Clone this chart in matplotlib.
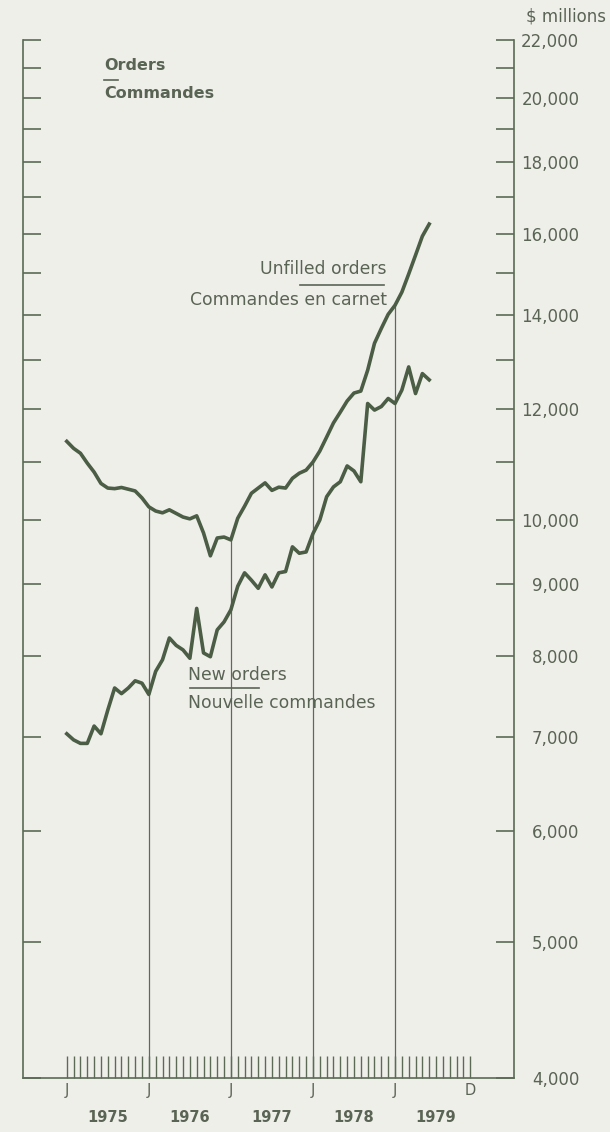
import numpy as np
import matplotlib
matplotlib.use("Agg")
import matplotlib.pyplot as plt
from matplotlib.ticker import FixedLocator, NullLocator, FixedFormatter

# ---------------- data (monthly, Jan 1975 .. Jun 1979) ----------------
unfilled_orders = [11380, 11250, 11160, 10980, 10820, 10620, 10540, 10530, 10550, 10520,
                   10490, 10370, 10220, 10150, 10120, 10170, 10110, 10050, 10020, 10070,
                   9790, 9430, 9710, 9725, 9680, 10030, 10230, 10450, 10540, 10630,
                   10500, 10555, 10540, 10710, 10800, 10855, 11000, 11200, 11460, 11730,
                   11940, 12160, 12320, 12360, 12790, 13370, 13700, 14020, 14230, 14540,
                   14980, 15450, 15940, 16260]
new_orders = [7040, 6970, 6930, 6930, 7130, 7040, 7320, 7590, 7520, 7590,
              7680, 7650, 7510, 7800, 7950, 8240, 8140, 8080, 7970, 8650,
              8040, 7990, 8350, 8460, 8630, 8970, 9170, 9060, 8940, 9140,
              8960, 9170, 9190, 9570, 9470, 9490, 9780, 10000, 10390, 10560,
              10650, 10930, 10840, 10650, 12110, 11980, 12050, 12210, 12110, 12380,
              12860, 12310, 12720, 12590]
years = ["1975", "1976", "1977", "1978", "1979"]
month_labels = ["J", "J", "J", "J", "J", "D"]
month_label_pos = [0, 12, 24, 36, 48, 59]
year_rule_months = [12, 24, 36, 48]
ytick_values = [4000, 5000, 6000, 7000, 8000, 9000, 10000, 11000, 12000, 13000, 14000,
                15000, 16000, 17000, 18000, 19000, 20000, 21000, 22000]
ylabel_values = [4000, 5000, 6000, 7000, 8000, 9000, 10000, 12000, 14000, 16000,
                 18000, 20000, 22000]

# ---------------- style ----------------
BG = "#efefea"
LINE = "#4b5d45"
AXC = "#5c6a56"
TXT = "#5a6454"
FONT = "DejaVu Sans"
plt.rcParams["font.family"] = [FONT]

W, H = 610, 1132
fig = plt.figure(figsize=(W / 100, H / 100), dpi=100, facecolor=BG)
left_px, right_px, top_px, bottom_px = 23, 514, 40, 1078
ax = fig.add_axes([left_px / W, 1 - bottom_px / H,
                   (right_px - left_px) / W, (bottom_px - top_px) / H])
ax.set_facecolor(BG)

x = np.arange(len(unfilled_orders))
ax.set_yscale("log")
ax.set_ylim(4000, 22000)
ax.set_xlim(-6.4, 65.4)

# vertical year rules from the unfilled-orders curve down to the base
for m in year_rule_months:
    ax.vlines(m, 4000, unfilled_orders[m], color=AXC, lw=0.9, zorder=1)

ax.plot(x, unfilled_orders, color=LINE, lw=2.6, solid_joinstyle="round", zorder=3)
ax.plot(np.arange(len(new_orders)), new_orders, color=LINE, lw=2.6,
        solid_joinstyle="round", zorder=3)

# spines
for s in ["left", "right", "bottom"]:
    ax.spines[s].set_color(AXC)
    ax.spines[s].set_linewidth(1.2)
ax.spines["top"].set_visible(False)

# y ticks
ax.yaxis.set_major_locator(FixedLocator(ytick_values))
ax.yaxis.set_minor_locator(NullLocator())
labels = [f"{v:,}" if v in ylabel_values else "" for v in ytick_values]
ax.yaxis.set_major_formatter(FixedFormatter(labels))
ax.tick_params(axis="y", which="major", direction="in", length=13, width=1.2,
               color=AXC, left=True, right=True, labelleft=False, labelright=True,
               labelsize=12, labelcolor=TXT, pad=47)
for lab in ax.get_yticklabels():
    lab.set_horizontalalignment("right")

# x ticks: monthly
ax.set_xticks(np.arange(0, 60))
ax.set_xticklabels([])
ax.tick_params(axis="x", which="major", direction="in", length=16, width=1.0,
               color=AXC, top=False, bottom=True)

xt = ax.get_xaxis_transform()
for pos, lab in zip(month_label_pos, month_labels):
    ax.text(pos, -0.0125, lab, transform=xt, ha="center", va="center",
            fontsize=10.5, color=TXT)
for i, yr in enumerate(years):
    ax.text(6 + 12 * i, -0.0385, yr, transform=xt, ha="center", va="center",
            fontsize=10.5, fontweight="bold", color=TXT)

# annotations (figure-pixel placement)
def ftext(px, py, s, **kw):
    fig.text(px / W, 1 - py / H, s, color=TXT, **kw)

def fline(x0, x1, py):
    fig.add_artist(plt.Line2D([x0 / W, x1 / W], [1 - py / H, 1 - py / H],
                              color=TXT, lw=1.2))

ftext(606, 16, "$ millions", ha="right", va="center", fontsize=12)

ftext(104, 65, "Orders", ha="left", va="center", fontsize=11.5, fontweight="bold")
fline(104, 118, 80)
ftext(104, 93, "Commandes", ha="left", va="center", fontsize=11.5, fontweight="bold")

ftext(387, 269, "Unfilled orders", ha="right", va="center", fontsize=12.4)
fline(300, 384, 285)
ftext(387, 300, "Commandes en carnet", ha="right", va="center", fontsize=12.4)

ftext(188, 675, "New orders", ha="left", va="center", fontsize=12.4)
fline(190, 259, 688)
ftext(188, 703, "Nouvelle commandes", ha="left", va="center", fontsize=12.4)

fig.savefig("out.png", dpi=100, facecolor=BG)
